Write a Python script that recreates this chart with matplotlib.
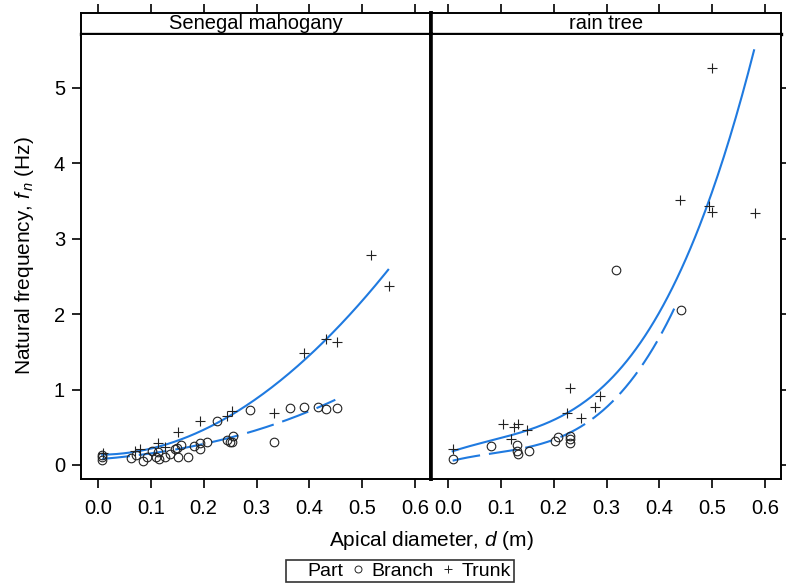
import numpy as np
import matplotlib
matplotlib.use("Agg")
import matplotlib.pyplot as plt
from matplotlib.lines import Line2D
from matplotlib.ticker import FormatStrFormatter

plt.rcParams["font.family"] = ["Liberation Sans", "DejaVu Sans"]
plt.rcParams["mathtext.fontset"] = "custom"
plt.rcParams["mathtext.rm"] = "Liberation Sans"
plt.rcParams["mathtext.it"] = "Liberation Sans:italic"

panels = ["Senegal mahogany", "rain tree"]

# Senegal mahogany
sm_trunk_x = [0.009, 0.07, 0.08, 0.113, 0.126, 0.151, 0.193, 0.244, 0.254, 0.333, 0.39, 0.432, 0.452, 0.517, 0.551]
sm_trunk_y = [0.16, 0.19, 0.21, 0.29, 0.24, 0.44, 0.58, 0.65, 0.72, 0.69, 1.49, 1.67, 1.63, 2.79, 2.38]
sm_branch_x = [0.008, 0.008, 0.008, 0.063, 0.072, 0.085, 0.093, 0.102, 0.11, 0.113, 0.115, 0.126, 0.137,
               0.145, 0.149, 0.152, 0.157, 0.17, 0.181, 0.193, 0.193, 0.206, 0.225, 0.245, 0.25, 0.255,
               0.254, 0.287, 0.333, 0.364, 0.389, 0.417, 0.431, 0.452]
sm_branch_y = [0.07, 0.1, 0.13, 0.09, 0.13, 0.05, 0.11, 0.18, 0.11, 0.17, 0.08, 0.1, 0.15,
               0.21, 0.23, 0.1, 0.27, 0.11, 0.25, 0.29, 0.21, 0.3, 0.58, 0.33, 0.31, 0.38,
               0.3, 0.73, 0.31, 0.76, 0.77, 0.77, 0.74, 0.76]
# fitted curves, points
sm_trunk_fit_x = [0.008, 0.07, 0.133, 0.165, 0.197, 0.228, 0.26, 0.286, 0.335, 0.39, 0.432, 0.49, 0.549]
sm_trunk_fit_y = [0.14, 0.18, 0.265, 0.35, 0.46, 0.57, 0.71, 0.82, 1.06, 1.39, 1.67, 2.08, 2.6]
sm_branch_fit_x = [0.008, 0.07, 0.133, 0.184, 0.203, 0.256, 0.3, 0.345, 0.392, 0.449]
sm_branch_fit_y = [0.09, 0.11, 0.18, 0.256, 0.29, 0.4, 0.46, 0.55, 0.68, 0.875]

# rain tree
rt_trunk_x = [0.009, 0.104, 0.119, 0.125, 0.133, 0.149, 0.226, 0.23, 0.252, 0.279, 0.287, 0.439, 0.494, 0.5, 0.5, 0.581]
rt_trunk_y = [0.21, 0.54, 0.35, 0.5, 0.55, 0.47, 0.69, 1.02, 0.62, 0.77, 0.91, 3.51, 3.43, 5.26, 3.35, 3.34]
rt_branch_x = [0.009, 0.081, 0.131, 0.131, 0.132, 0.154, 0.203, 0.208, 0.231, 0.231, 0.231, 0.318, 0.44]
rt_branch_y = [0.08, 0.25, 0.27, 0.19, 0.15, 0.18, 0.32, 0.37, 0.38, 0.34, 0.29, 2.58, 2.05]
rt_trunk_fit_x = [0.009, 0.06, 0.11, 0.148, 0.192, 0.23, 0.28, 0.321, 0.355, 0.418, 0.456, 0.494, 0.532, 0.579]
rt_trunk_fit_y = [0.21, 0.265, 0.35, 0.44, 0.57, 0.73, 0.97, 1.26, 1.5, 2.28, 2.9, 3.45, 4.22, 5.57]
rt_branch_fit_x = [0.009, 0.06, 0.11, 0.154, 0.192, 0.225, 0.255, 0.292, 0.355, 0.4, 0.435]
rt_branch_fit_y = [0.076, 0.105, 0.16, 0.24, 0.33, 0.42, 0.54, 0.73, 1.17, 1.66, 2.21]

series = [
    (sm_trunk_x, sm_trunk_y, sm_branch_x, sm_branch_y,
     sm_trunk_fit_x, sm_trunk_fit_y, sm_branch_fit_x, sm_branch_fit_y),
    (rt_trunk_x, rt_trunk_y, rt_branch_x, rt_branch_y,
     rt_trunk_fit_x, rt_trunk_fit_y, rt_branch_fit_x, rt_branch_fit_y),
]

blue = "#1f7ae0"
ink = "#222222"
fs = 14.5


def smooth(xs, ys):
    # smooth the read-off curve points with a cubic
    coef = np.polyfit(xs, ys, 3)
    xx = np.linspace(min(xs), max(xs), 200)
    return xx, np.polyval(coef, xx)


fig = plt.figure(figsize=(7.86, 5.85), dpi=100)
gs = fig.add_gridspec(2, 2, left=81 / 786, right=781 / 786, bottom=1 - 479 / 585, top=1 - 13 / 585,
                      height_ratios=[21, 445], wspace=0, hspace=0)

for i, name in enumerate(panels):
    tx, ty, bx, by, tfx, tfy, bfx, bfy = series[i]
    strip = fig.add_subplot(gs[0, i])
    ax = fig.add_subplot(gs[1, i])

    ax.plot(*smooth(tfx, tfy), color=blue, lw=1.5)
    ax.plot(*smooth(bfx, bfy), color=blue, lw=1.5, linestyle=(0, (13.4, 4.3)))
    ax.plot(bx, by, ls="none", marker="o", ms=6.2, mfc="none", mec=ink, mew=0.8)
    ax.plot(tx, ty, ls="none", marker="+", ms=7, mec=ink, mew=0.8)

    for a in (ax, strip):
        a.set_xlim(-0.032, 0.630)
        for s in a.spines.values():
            s.set_linewidth(1.4)
    inner = "right" if i == 0 else "left"
    ax.spines[inner].set_linewidth(2.6)
    strip.spines[inner].set_linewidth(2.6)
    strip.spines["bottom"].set_linewidth(2.4)
    ax.set_ylim(-0.186, 5.716)
    ax.set_xticks(np.arange(0, 0.61, 0.1))
    ax.xaxis.set_major_formatter(FormatStrFormatter("%.1f"))
    ax.set_yticks(range(6))
    ax.tick_params(direction="out", length=6.5, width=1.2, labelsize=fs)
    ax.tick_params(axis="x", pad=8)
    if i == 0:
        ax.tick_params(axis="y", left=True, right=False, pad=5)
    else:
        ax.tick_params(axis="y", left=False, right=True, labelleft=False)

    strip.set_xticks(np.arange(0, 0.61, 0.1))
    strip.set_yticks([])
    strip.tick_params(axis="x", top=True, bottom=False, labelbottom=False,
                      direction="out", length=6.5, width=1.2)
    strip.text(0.5, 0.5, name, transform=strip.transAxes, ha="center", va="center", fontsize=fs)

fig.text(431 / 786, 1 - 541 / 585, "Apical diameter, $d$ (m)", ha="center", va="center", fontsize=15)
fig.text(25 / 786, 1 - 256 / 585, r"Natural frequency, $f_{\,n}$ (Hz)", ha="center", va="center",
         rotation=90, fontsize=15)

handles = [Line2D([], [], ls="none"),
           Line2D([], [], ls="none", marker="o", ms=5, mfc="none", mec=ink, mew=0.7),
           Line2D([], [], ls="none", marker="+", ms=6, mec=ink, mew=0.7)]
leg = fig.legend(handles, ["Part", "Branch", "Trunk"], ncol=3, loc="center",
                 bbox_to_anchor=(400 / 786, 1 - 571 / 585), fontsize=14, frameon=True,
                 fancybox=False, edgecolor="black", handlelength=0.5, handletextpad=0.45,
                 columnspacing=0.5, borderpad=0.12, borderaxespad=0)
leg.get_frame().set_linewidth(1.2)

fig.savefig("out.png", dpi=100)
